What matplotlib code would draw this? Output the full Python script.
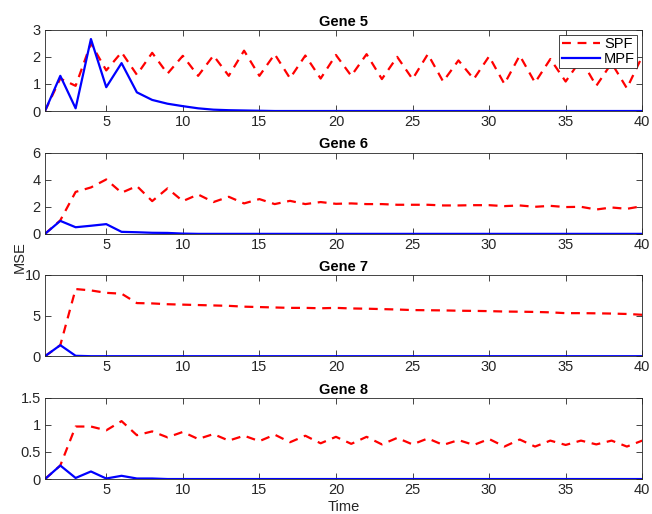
import matplotlib.pyplot as plt
import numpy as np

plt.rcParams['font.family'] = ['Liberation Sans', 'DejaVu Sans']

t = np.arange(1, 41)

# Gene 5
spf5 = [0, 1.2, 0.93, 2.5, 1.5, 2.17, 1.34, 2.15, 1.38, 2.04,
        1.3, 2.05, 1.3, 2.23, 1.3, 2.1, 1.21, 2.05, 1.2, 2.07,
        1.3, 2.1, 1.18, 2.0, 1.18, 2.1, 1.09, 1.87, 1.18, 2.02,
        1.0, 2.05, 1.05, 1.92, 1.09, 1.9, 0.93, 1.77, 0.84, 2.02]
mpf5 = [0, 1.3, 0.1, 2.66, 0.88, 1.77, 0.69, 0.41, 0.27, 0.18,
        0.1, 0.05, 0.03, 0.02, 0.01] + [0] * 25

# Gene 6
spf6 = [0, 1.0, 3.1, 3.43, 4.02, 3.04, 3.53, 2.42, 3.36, 2.42,
        2.91, 2.35, 2.74, 2.25, 2.57, 2.2, 2.44, 2.2, 2.35, 2.22,
        2.25, 2.2, 2.2, 2.15, 2.15, 2.15, 2.1, 2.1, 2.12, 2.12,
        2.05, 2.1, 2.0, 2.07, 1.98, 2.0, 1.8, 1.95, 1.85, 2.05]
mpf6 = [0, 0.96, 0.49, 0.6, 0.72, 0.15, 0.12, 0.08, 0.07, 0.02] + [0] * 30

# Gene 7
spf7 = [0, 1.36, 8.27, 8.1, 7.8, 7.7, 6.54, 6.5, 6.4, 6.35,
        6.3, 6.25, 6.2, 6.1, 6.05, 6.0, 5.95, 5.95, 5.9, 5.95,
        5.88, 5.85, 5.8, 5.75, 5.68, 5.66, 5.64, 5.6, 5.58, 5.55,
        5.5, 5.48, 5.45, 5.4, 5.3, 5.3, 5.28, 5.25, 5.2, 5.1]
mpf7 = [0, 1.36, 0.05] + [0] * 37

# Gene 8
spf8 = [0, 0.25, 0.97, 0.97, 0.9, 1.07, 0.81, 0.88, 0.77, 0.87,
        0.74, 0.83, 0.71, 0.8, 0.7, 0.82, 0.68, 0.8, 0.66, 0.78,
        0.65, 0.78, 0.64, 0.76, 0.64, 0.75, 0.63, 0.72, 0.63, 0.74,
        0.6, 0.73, 0.6, 0.71, 0.63, 0.71, 0.64, 0.71, 0.6, 0.71]
mpf8 = [0, 0.25, 0.02, 0.14, 0.01, 0.06, 0.01, 0.01] + [0] * 32

genes = ['Gene 5', 'Gene 6', 'Gene 7', 'Gene 8']
spf = [spf5, spf6, spf7, spf8]
mpf = [mpf5, mpf6, mpf7, mpf8]
ylims = [(0, 3), (0, 6), (0, 10), (0, 1.5)]
yticks = [[0, 1, 2, 3], [0, 2, 4, 6], [0, 5, 10], [0, 0.5, 1, 1.5]]
yticklabels = [['0', '1', '2', '3'], ['0', '2', '4', '6'], ['0', '5', '10'],
               ['0', '0.5', '1', '1.5']]

fig = plt.figure(figsize=(6.52, 5.14), dpi=100)
bottoms = [0.784, 0.545, 0.307, 0.068]
for i in range(4):
    ax = fig.add_axes([0.069, bottoms[i], 0.916, 0.158])
    ax.plot(t, spf[i], '--', color='red', lw=1.6, dashes=(4, 3), label='SPF')
    ax.plot(t, mpf[i], '-', color='blue', lw=1.6, label='MPF')
    ax.set_xlim(1, 40)
    ax.set_ylim(*ylims[i])
    ax.set_xticks([5, 10, 15, 20, 25, 30, 35, 40])
    ax.set_yticks(yticks[i])
    ax.set_yticklabels(yticklabels[i])
    ax.tick_params(direction='in', top=True, right=True, labelsize=10.5,
                   length=4, width=0.6, pad=3, colors='#262626')
    for s in ax.spines.values():
        s.set_linewidth(0.6)
        s.set_color('#262626')
    ax.set_title(genes[i], fontsize=10.5, fontweight='bold', pad=3)
    if i == 0:
        leg = ax.legend(loc='upper right', fontsize=10.5, fancybox=False,
                        edgecolor='#262626', framealpha=1, borderpad=0.15,
                        handlelength=2.6, labelspacing=0.05, borderaxespad=0.35,
                        handletextpad=0.3)
        leg.get_frame().set_linewidth(0.6)
    if i == 3:
        ax.set_xlabel('Time', fontsize=10.5, labelpad=2, color='#262626')

fig.text(0.03, 0.5, 'MSE', rotation=90, fontsize=10.5, va='center', ha='center',
         color='#262626')
fig.savefig('out.png', dpi=100)
